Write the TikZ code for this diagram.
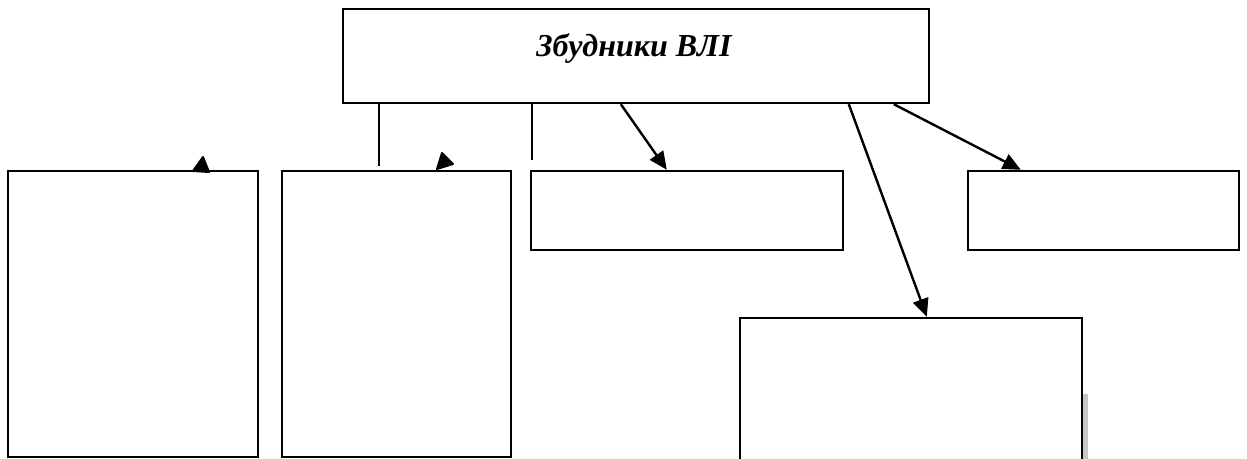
\documentclass[tikz,border=0pt]{standalone}
\usepackage{fontspec}
\setmainfont{Liberation Serif}
\usetikzlibrary{arrows.meta,calc}
\tikzset{
	box/.style={draw,line width=1.2pt,inner sep=0pt,fill=white},
	arr/.style={line width=1.2pt,-{Triangle[length=9pt,width=8pt]}},
	stub/.style={line width=1.2pt},
	tip/.style={fill=black,draw=black,line width=1pt,line join=round}
}
\begin{document}
\begin{tikzpicture}[x=0.5pt,y=-0.5pt]
	\useasboundingbox (0,0) rectangle (1247,459);
	\clip (0,0) rectangle (1247,459);
	\node[box,minimum width=293pt,minimum height=47pt] (vli) at (636,56) {};
	\node[font=\fontsize{16}{18}\selectfont\bfseries\itshape] (title) at (634,49) {Збудники ВЛІ};
	\node[box,minimum width=125pt,minimum height=143pt] (b1) at (133,314) {};
	\node[box,minimum width=114.5pt,minimum height=143pt] (b2) at (396.5,314) {};
	\node[box,minimum width=156pt,minimum height=39.5pt] (b3) at (687,210.5) {};
	\node[box,minimum width=135.5pt,minimum height=39.5pt] (b4) at (1103.5,210.5) {};
	% shadow of the lower box
	\fill[gray!45] (1083,394) rectangle (1088,470);
	\node[box,minimum width=171pt,minimum height=81pt] (b5) at (911,399) {};
	% lines without arrows
	\coordinate (s1) at (379,166);
	\coordinate (s2) at (532,160);
	\draw[stub] (vli.south -| s1) -- (s1);
	\draw[stub] (vli.south -| s2) -- (s2);
	% arrows
	\draw[arr] ($(vli.south west)+(279,0)$) -- ($(b3.north west)+(137,0)$);
	\draw[arr] ($(vli.south west)+(507,0)$) -- ($(b5.north west)+(188,0)$);
	\draw[arr] ($(vli.south west)+(552,0)$) -- ($(b4.north west)+(54,0)$);
	% loose arrow tips
	\filldraw[tip] (193,171) -- (209,172) -- (203,157) -- cycle;
	\filldraw[tip] (437,169) -- (453,164) -- (442,153) -- cycle;
\end{tikzpicture}
\end{document}
